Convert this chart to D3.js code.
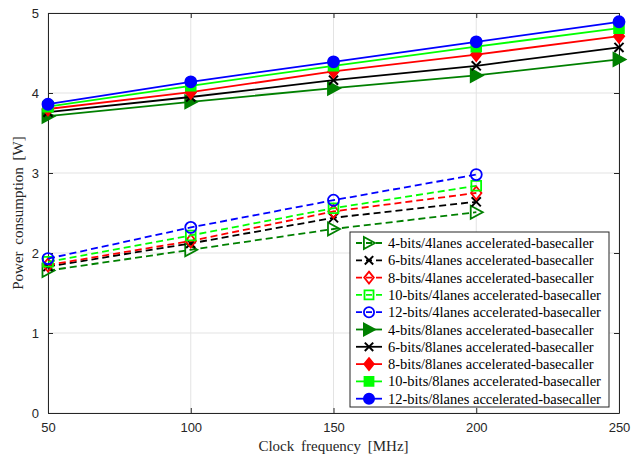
<!DOCTYPE html>
<head>
<meta charset="utf-8">
<script src="https://cdn.jsdelivr.net/npm/d3@7"></script>
<style>
body { margin: 0; background: #fff; }
</style>
</head>
<body>
<script>

var freqs = [50, 100, 150, 200, 250]
var yTicks = [0, 1, 2, 3, 4, 5]

// 4 lanes (dashed), measured up to 200 MHz
var bits4_4lanes  = [1.78, 2.04, 2.30, 2.51]
var bits6_4lanes  = [1.83, 2.12, 2.44, 2.64]
var bits8_4lanes  = [1.85, 2.15, 2.52, 2.75]
var bits10_4lanes = [1.89, 2.22, 2.56, 2.84]
var bits12_4lanes = [1.93, 2.32, 2.66, 2.98]

// 8 lanes (solid)
var bits4_8lanes  = [3.71, 3.89, 4.06, 4.22, 4.42]
var bits6_8lanes  = [3.76, 3.95, 4.16, 4.34, 4.57]
var bits8_8lanes  = [3.80, 4.01, 4.27, 4.48, 4.71]
var bits10_8lanes = [3.83, 4.09, 4.34, 4.58, 4.81]
var bits12_8lanes = [3.86, 4.14, 4.39, 4.64, 4.89]

var series = [
  {name: "4-bits/4lanes accelerated-basecaller",  v: bits4_4lanes,  c: "#008000", m: "tri",  fill: false, dash: true},
  {name: "6-bits/4lanes accelerated-basecaller",  v: bits6_4lanes,  c: "#000000", m: "x",    fill: false, dash: true},
  {name: "8-bits/4lanes accelerated-basecaller",  v: bits8_4lanes,  c: "#ff0000", m: "dia",  fill: false, dash: true},
  {name: "10-bits/4lanes accelerated-basecaller", v: bits10_4lanes, c: "#00ff00", m: "sq",   fill: false, dash: true},
  {name: "12-bits/4lanes accelerated-basecaller", v: bits12_4lanes, c: "#0000ff", m: "circ", fill: false, dash: true},
  {name: "4-bits/8lanes accelerated-basecaller",  v: bits4_8lanes,  c: "#008000", m: "tri",  fill: true,  dash: false},
  {name: "6-bits/8lanes accelerated-basecaller",  v: bits6_8lanes,  c: "#000000", m: "x",    fill: true,  dash: false},
  {name: "8-bits/8lanes accelerated-basecaller",  v: bits8_8lanes,  c: "#ff0000", m: "dia",  fill: true,  dash: false},
  {name: "10-bits/8lanes accelerated-basecaller", v: bits10_8lanes, c: "#00ff00", m: "sq",   fill: true,  dash: false},
  {name: "12-bits/8lanes accelerated-basecaller", v: bits12_8lanes, c: "#0000ff", m: "circ", fill: true,  dash: false}
]

var W = 641, H = 459
var margin = {top: 13, right: 22, bottom: 46, left: 48}
var width = W - margin.left - margin.right
var height = H - margin.top - margin.bottom
var serif = "'Liberation Serif', 'Times New Roman', serif"

var svg = d3.select("body").append("svg")
    .attr("width", W)
    .attr("height", H)
  .append("g")
    .attr("transform", "translate(" + margin.left + "," + margin.top + ")")

var x = d3.scaleLinear().domain([50, 250]).range([0, width])
var y = d3.scaleLinear().domain([0, 5]).range([height, 0])

// grid
svg.append("g").selectAll("line").data(freqs).enter().append("line")
    .attr("x1", d => x(d)).attr("x2", d => x(d))
    .attr("y1", 0).attr("y2", height)
    .attr("stroke", "#e3e3e3").attr("stroke-width", 1)
svg.append("g").selectAll("line").data(yTicks).enter().append("line")
    .attr("x1", 0).attr("x2", width)
    .attr("y1", d => y(d)).attr("y2", d => y(d))
    .attr("stroke", "#e3e3e3").attr("stroke-width", 1)

// axes (inward ticks, box)
svg.append("g")
    .attr("transform", "translate(0," + height + ")")
    .call(d3.axisBottom(x).tickValues(freqs).tickSize(-5).tickPadding(10).tickSizeOuter(0))
svg.append("g")
    .call(d3.axisTop(x).tickValues(freqs).tickSize(-5).tickFormat("").tickSizeOuter(0))
svg.append("g")
    .call(d3.axisLeft(y).tickValues(yTicks).tickSize(-5).tickPadding(9).tickFormat(d3.format("d")).tickSizeOuter(0))
svg.append("g")
    .attr("transform", "translate(" + width + ",0)")
    .call(d3.axisRight(y).tickValues(yTicks).tickSize(-5).tickFormat("").tickSizeOuter(0))

svg.selectAll(".domain").attr("stroke", "#262626").attr("stroke-width", 1)
svg.selectAll(".tick line").attr("stroke", "#262626")
svg.selectAll(".tick text")
    .style("font-family", "'Liberation Sans', Arial, sans-serif")
    .style("font-size", "13px")
    .attr("fill", "#262626")

// markers
function marker(g, type, fill, c, s) {
  var r = s / 2
  var path
  if (type == "tri") path = `M${-r*0.85},${-r} L${r},0 L${-r*0.85},${r} Z`
  else if (type == "x") path = `M${-r*0.7},${-r*0.7} L${r*0.7},${r*0.7} M${-r*0.7},${r*0.7} L${r*0.7},${-r*0.7}`
  else if (type == "dia") path = `M0,${-r} L${r*0.8},0 L0,${r} L${-r*0.8},0 Z`
  else if (type == "sq") path = `M${-r*0.75},${-r*0.75} H${r*0.75} V${r*0.75} H${-r*0.75} Z`
  else path = d3.path(), path.arc(0, 0, r * 0.85, 0, 2 * Math.PI), path = path.toString()
  var filled = fill && type != "x"
  g.append("path")
    .attr("d", path)
    .attr("fill", filled ? c : "none")
    .attr("stroke", c)
    .attr("stroke-width", type == "x" ? 2 : 1.8)
}

var line = d3.line().x((d, i) => x(freqs[i])).y(d => y(d))

series.forEach(function(s) {
  svg.append("path")
    .datum(s.v)
    .attr("d", line)
    .attr("fill", "none")
    .attr("stroke", s.c)
    .attr("stroke-width", 1.8)
    .attr("stroke-dasharray", s.dash ? "7,4" : null)
  s.v.forEach(function(v, i) {
    var g = svg.append("g").attr("transform", `translate(${x(freqs[i])},${y(v)})`)
    marker(g, s.m, s.fill, s.c, 13)
  })
})

// legend
var lx = 350 - margin.left, ly = 232 - margin.top
var rowH = 17.3
var legend = svg.append("g").attr("transform", `translate(${lx},${ly})`)
legend.append("rect")
    .attr("width", 259).attr("height", 175)
    .attr("fill", "#fff").attr("stroke", "#262626").attr("stroke-width", 1)
series.forEach(function(s, i) {
  var cy = 11 + i * rowH
  legend.append("line")
    .attr("x1", 6).attr("x2", 32).attr("y1", cy).attr("y2", cy)
    .attr("stroke", s.c).attr("stroke-width", 1.8)
    .attr("stroke-dasharray", s.dash ? "6,4" : null)
  var g = legend.append("g").attr("transform", `translate(19,${cy})`)
  marker(g, s.m, s.fill, s.c, 12)
  legend.append("text")
    .attr("x", 38).attr("y", cy)
    .attr("dy", "0.35em")
    .style("font-family", serif)
    .style("font-size", "14.5px")
    .attr("fill", "#000")
    .text(s.name)
})

// axis labels
svg.append("text")
    .attr("x", width / 2).attr("y", height + 38)
    .attr("text-anchor", "middle")
    .style("font-family", serif)
    .style("font-size", "15px")
    .style("word-spacing", "3px")
    .attr("fill", "#262626")
    .text("Clock frequency [MHz]")
svg.append("text")
    .attr("transform", `translate(${-25},${height / 2}) rotate(-90)`)
    .attr("text-anchor", "middle")
    .style("font-family", serif)
    .style("font-size", "15px")
    .style("word-spacing", "3px")
    .attr("fill", "#262626")
    .text("Power consumption [W]")

</script>
</body>
</html>
